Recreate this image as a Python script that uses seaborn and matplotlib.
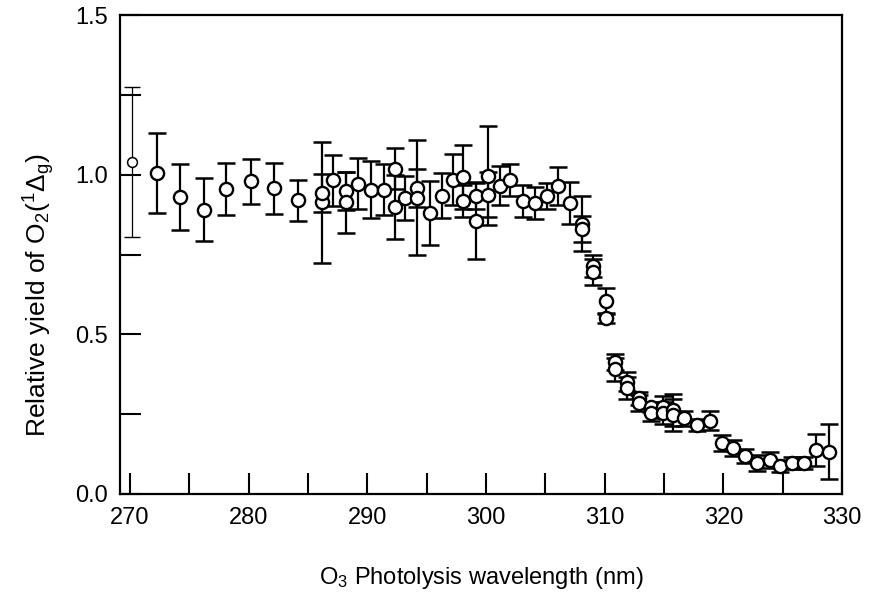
import numpy as np
import matplotlib
matplotlib.use("Agg")
import matplotlib.pyplot as plt
import seaborn as sns

# first point (drawn thinner in the original)
x_first = [270.2]
y_first = [1.04]
err_first = [0.235]

wavelength = [272.3, 274.2, 276.2, 278.1, 280.2, 282.1, 284.2,
              286.2, 286.2, 287.1, 288.2, 288.2, 289.2, 290.3, 291.4,
              292.3, 292.3, 293.2, 294.2, 294.2, 295.3, 296.3, 297.2,
              298.1, 298.1, 299.2, 299.2, 300.2, 300.2, 301.2, 302.0,
              303.1, 304.1, 305.1, 306.1, 307.1, 308.1, 308.1,
              309.0, 309.0, 310.1, 310.1, 310.9, 310.9, 311.9, 311.9,
              312.9, 312.9, 313.9, 313.9, 314.9, 314.9, 315.8, 315.8,
              316.7, 317.8, 318.9, 319.9, 320.8, 321.8, 322.8, 323.9,
              324.8, 325.8, 326.8, 327.8, 328.9]
rel_yield = [1.005, 0.929, 0.89, 0.956, 0.979, 0.957, 0.92,
             0.913, 0.943, 0.982, 0.948, 0.913, 0.972, 0.953, 0.953,
             1.019, 0.898, 0.927, 0.958, 0.927, 0.88, 0.934, 0.984,
             0.992, 0.917, 0.934, 0.856, 0.997, 0.937, 0.966, 0.984,
             0.917, 0.911, 0.934, 0.964, 0.911, 0.847, 0.83,
             0.713, 0.696, 0.604, 0.552, 0.414, 0.39, 0.352, 0.331,
             0.30, 0.284, 0.273, 0.255, 0.273, 0.253, 0.263, 0.247,
             0.237, 0.216, 0.229, 0.16, 0.143, 0.12, 0.097, 0.105,
             0.088, 0.097, 0.097, 0.138, 0.133]
yield_err = [0.125, 0.103, 0.099, 0.082, 0.07, 0.08, 0.064,
             0.19, 0.06, 0.08, 0.06, 0.095, 0.08, 0.09, 0.08,
             0.065, 0.10, 0.07, 0.06, 0.18, 0.10, 0.07, 0.08,
             0.10, 0.05, 0.04, 0.12, 0.155, 0.07, 0.06, 0.05,
             0.05, 0.05, 0.04, 0.06, 0.065, 0.085, 0.04,
             0.035, 0.04, 0.04, 0.015, 0.025, 0.035, 0.03, 0.035,
             0.02, 0.025, 0.015, 0.025, 0.035, 0.035, 0.05, 0.05,
             0.023, 0.018, 0.03, 0.025, 0.025, 0.022, 0.025, 0.025,
             0.02, 0.02, 0.02, 0.05, 0.085]

x_ticks = [270, 280, 290, 300, 310, 320, 330]
y_ticks = [0.0, 0.5, 1.0, 1.5]
y_ticklabels = ['0.0', '0.5', '1.0', '1.5']

sns.set_style("ticks")
plt.rcParams['font.family'] = ['Liberation Sans', 'DejaVu Sans']
plt.rcParams['mathtext.fontset'] = 'custom'
plt.rcParams['mathtext.rm'] = 'Liberation Sans'
plt.rcParams['mathtext.it'] = 'Liberation Sans:italic'
for key in ['text.color', 'axes.labelcolor', 'xtick.color', 'ytick.color',
            'xtick.labelcolor', 'ytick.labelcolor', 'axes.edgecolor']:
    plt.rcParams[key] = 'black'

fig = plt.figure(figsize=(8.72, 5.93), dpi=100)
ax = fig.add_axes([120 / 872, 1 - 494 / 593, (842 - 120) / 872, (494 - 15) / 593])

ax.errorbar(x_first, y_first, yerr=err_first, fmt='none', ecolor='black',
            elinewidth=0.9, capsize=6, capthick=1.0, zorder=2)
ax.errorbar(wavelength, rel_yield, yerr=yield_err, fmt='none', ecolor='black',
            elinewidth=1.6, capsize=6.5, capthick=1.8, zorder=2)

sns.scatterplot(x=x_first, y=y_first, s=50, facecolor='white', edgecolor='black',
                linewidth=1.1, zorder=3, ax=ax)
sns.scatterplot(x=wavelength, y=rel_yield, s=90, facecolor='white', edgecolor='black',
                linewidth=1.7, zorder=3, ax=ax)

ax.set_xlim(269.16, 330)
ax.set_ylim(0, 1.5)
ax.set_xticks(x_ticks)
ax.set_xticks(np.arange(275, 330, 10), minor=True)
ax.set_yticks(y_ticks)
ax.set_yticks([0.25, 0.75, 1.25], minor=True)
ax.set_yticklabels(y_ticklabels)

ax.tick_params(which='both', direction='in', length=15, width=1.5,
               labelsize=17, top=False, right=False, color='black',
               labelcolor='black')
ax.tick_params(axis='x', pad=9)
ax.tick_params(axis='y', pad=9)
for sp in ax.spines.values():
    sp.set_linewidth(1.6)
    sp.set_color('black')

ax.set_xlabel('O$_3$ Photolysis wavelength (nm)', fontsize=17, labelpad=26)
ax.set_ylabel('Relative yield of O$_2$($^1$Δ$_\\mathrm{g}$)', fontsize=19)
ax.yaxis.set_label_coords(-0.087, 0.415)

fig.savefig('out.png', dpi=100, facecolor='white')
